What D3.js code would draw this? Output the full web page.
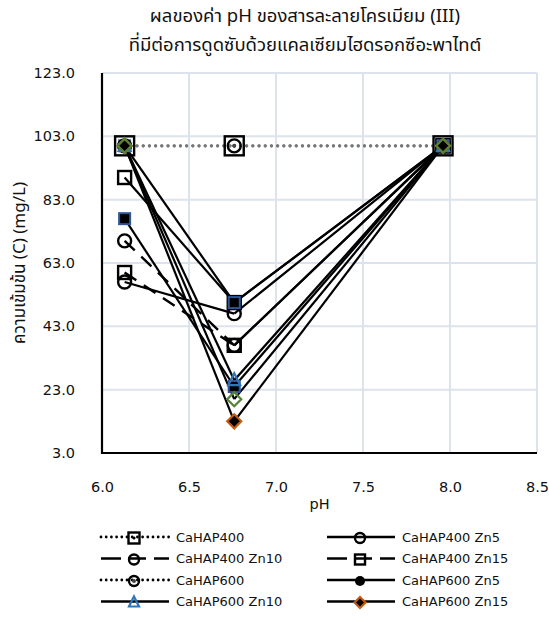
<!DOCTYPE html>
<html>
<head>
<meta charset="utf-8">
<script src="https://cdn.jsdelivr.net/npm/d3@7/dist/d3.min.js"></script>
<style>
  html, body { margin: 0; padding: 0; background: #fff; }
  svg { display: block; }
</style>
</head>
<body>
<svg id="chart" width="549" height="637"></svg>
<script>
// ---------------- data ----------------
const titleLines = ["ผลของค่า pH ของสารละลายโครเมียม (III)", "ที่มีต่อการดูดซับด้วยแคลเซียมไฮดรอกซีอะพาไทต์"];
const xTitle = "pH";
const yTitle = "ความเข้มข้น (C)  (mg/L)";
const phValues = [6.13, 6.76, 7.96];
const xTicks = [6.0, 6.5, 7.0, 7.5, 8.0, 8.5];
const yTicks = [3, 23, 43, 63, 83, 103, 123];

const cahap400     = [100, 100, 100];
const cahap400Zn5  = [57, 47, 100];
const cahap400Zn10 = [70, 37, 100];
const cahap400Zn15 = [60, 37, 100];
const cahap600     = [100, 100, 100];
const cahap600Zn5  = [77, 24, 100];
const cahap600Zn10 = [100, 26, 100];
const cahap600Zn15 = [100, 13, 100];
// series drawn in the plot but absent from the legend
const extraSquare  = [90, 50.5, 100];
const extraFilled  = [100, 50.5, 100];
const extraDiamond = [100, 20, 100];

// ---------------- styles ----------------
const series = [
  {name: "CaHAP400",      values: cahap400,     line: "dot",   marker: "squareDot", size: 19, legend: [0,0]},
  {name: "CaHAP400 Zn5",  values: cahap400Zn5,  line: "solid", marker: "circle",    size: 13, legend: [1,0]},
  {name: "CaHAP400 Zn10", values: cahap400Zn10, line: "dash",  marker: "circle",    size: 13, legend: [0,1]},
  {name: "CaHAP400 Zn15", values: cahap400Zn15, line: "dash",  marker: "square",    size: 13, legend: [1,1]},
  {name: "extraSquare",   values: extraSquare,  line: "solid", marker: "square",    size: 13, legend: null},
  {name: "extraFilled",   values: extraFilled,  line: "solid", marker: "filledSquare", size: 11, legend: null},
  {name: "CaHAP600",      values: cahap600,     line: "dot",   marker: "circleDot", size: 13, legend: [0,2]},
  {name: "CaHAP600 Zn5",  values: cahap600Zn5,  line: "solid", marker: "filledSquare", size: 11, legend: [1,2], legendMarker: "filledCircle"},
  {name: "CaHAP600 Zn10", values: cahap600Zn10, line: "solid", marker: "triangle",  size: 12, legend: [0,3]},
  {name: "CaHAP600 Zn15", values: cahap600Zn15, line: "solid", marker: "diamond",   size: 14, legend: [1,3]},
  {name: "extraDiamond",  values: extraDiamond, line: "solid", marker: "greenDiamond", size: 14, legend: null}
];

const svg = d3.select("#chart");
const plot = {left: 102, right: 537, top: 73, bottom: 453};

const x = d3.scaleLinear().domain([6.0, 8.5]).range([plot.left, plot.right]);
const y = d3.scaleLinear().domain([3, 123]).range([plot.bottom, plot.top]);

const fontTxt = "'DejaVu Sans', Verdana, sans-serif";
const fontThai = "'Noto Sans Thai', 'Noto Sans', 'DejaVu Sans', sans-serif";

// title
svg.append("g").selectAll("text").data(titleLines).join("text")
  .attr("x", 305).attr("y", (d, i) => 22 + i * 29)
  .attr("text-anchor", "middle")
  .attr("font-family", fontThai).attr("font-size", 18.5)
  .attr("fill", "#111").text(d => d);

// grid
const grid = svg.append("g");
grid.selectAll(".gx").data(xTicks).join("line")
  .attr("x1", d => x(d)).attr("x2", d => x(d))
  .attr("y1", plot.top).attr("y2", plot.bottom)
  .attr("stroke", "#dde3ec").attr("stroke-width", 2);
grid.selectAll(".gy").data(yTicks).join("line")
  .attr("x1", plot.left).attr("x2", plot.right)
  .attr("y1", d => y(d)).attr("y2", d => y(d))
  .attr("stroke", "#dde3ec").attr("stroke-width", 2);

// axes
const xAxis = d3.axisBottom(x).tickValues(xTicks).tickFormat(d3.format(".1f")).tickSize(0).tickPadding(29);
const yAxis = d3.axisLeft(y).tickValues(yTicks).tickFormat(d3.format(".1f")).tickSize(0).tickPadding(26);
const gx = svg.append("g").attr("transform", `translate(0,${plot.bottom})`).call(xAxis);
const gy = svg.append("g").attr("transform", `translate(${plot.left},0)`).call(yAxis);
[gx, gy].forEach(g => {
  g.select(".domain").remove();
  g.selectAll("text").attr("font-family", fontTxt).attr("font-size", 14.5).attr("fill", "#111");
});
gy.selectAll("text").attr("x", -27).attr("text-anchor", "end");
svg.append("line").attr("x1", plot.left).attr("x2", plot.left).attr("y1", plot.top).attr("y2", plot.bottom + 1)
  .attr("stroke", "#000").attr("stroke-width", 2.2);
svg.append("line").attr("x1", plot.left - 1).attr("x2", plot.right).attr("y1", plot.bottom).attr("y2", plot.bottom)
  .attr("stroke", "#000").attr("stroke-width", 2.2);

svg.append("text").attr("x", (plot.left + plot.right) / 2).attr("y", 509)
  .attr("text-anchor", "middle").attr("font-family", fontTxt).attr("font-size", 14.5).attr("fill", "#111").text(xTitle);
svg.append("text").attr("transform", `translate(20,${(plot.top + plot.bottom) / 2}) rotate(-90)`)
  .attr("text-anchor", "middle").attr("dominant-baseline", "central")
  .attr("font-family", fontThai).attr("font-size", 17).attr("fill", "#111").text(yTitle);

// line style helper
function styleLine(sel, kind) {
  sel.attr("fill", "none");
  if (kind === "dot") {
    sel.attr("stroke", "#777").attr("stroke-width", 3.2).attr("stroke-linecap", "round").attr("stroke-dasharray", "0,6.2");
  } else if (kind === "dash") {
    sel.attr("stroke", "#000").attr("stroke-width", 2.4).attr("stroke-dasharray", "14,9");
  } else {
    sel.attr("stroke", "#000").attr("stroke-width", 2.2);
  }
  return sel;
}

// marker helper
function drawMarker(g, type, cx, cy, s) {
  const h = s / 2;
  if (type === "square" || type === "squareDot") {
    g.append("rect").attr("x", cx - h).attr("y", cy - h).attr("width", s).attr("height", s)
      .attr("fill", "none").attr("stroke", "#000").attr("stroke-width", 2.4);
    if (type === "squareDot") g.append("circle").attr("cx", cx).attr("cy", cy).attr("r", 1.6).attr("fill", "#000");
  } else if (type === "filledSquare") {
    g.append("rect").attr("x", cx - h).attr("y", cy - h).attr("width", s).attr("height", s)
      .attr("fill", "#000").attr("stroke", "#2f5597").attr("stroke-width", 2);
  } else if (type === "circle" || type === "circleDot") {
    g.append("circle").attr("cx", cx).attr("cy", cy).attr("r", h)
      .attr("fill", "none").attr("stroke", "#000").attr("stroke-width", 2.4);
    if (type === "circleDot") g.append("circle").attr("cx", cx).attr("cy", cy).attr("r", 2).attr("fill", "#444");
  } else if (type === "filledCircle") {
    g.append("circle").attr("cx", cx).attr("cy", cy).attr("r", h).attr("fill", "#000");
  } else if (type === "triangle") {
    const p = [[cx, cy - h - 1], [cx + h, cy + h - 1], [cx - h, cy + h - 1]];
    g.append("polygon").attr("points", p.map(q => q.join(",")).join(" "))
      .attr("fill", "none").attr("stroke", "#2e75b6").attr("stroke-width", 2.2);
  } else if (type === "diamond" || type === "greenDiamond") {
    const p = [[cx, cy - h], [cx + h, cy], [cx, cy + h], [cx - h, cy]];
    const green = type === "greenDiamond";
    g.append("polygon").attr("points", p.map(q => q.join(",")).join(" "))
      .attr("fill", green ? "none" : "#000")
      .attr("stroke", green ? "#548235" : "#c55a11").attr("stroke-width", 2.2);
  }
}

// lines: dashed series overlap on their rising segment, which reads as solid
const gl = svg.append("g");
series.forEach(s => {
  for (let i = 0; i < s.values.length - 1; i++) {
    const kind = (s.line === "dash" && i > 0) ? "solid" : s.line;
    styleLine(gl.append("line")
      .attr("x1", x(phValues[i])).attr("y1", y(s.values[i]))
      .attr("x2", x(phValues[i + 1])).attr("y2", y(s.values[i + 1])), kind);
  }
});
// markers
const gm = svg.append("g");
series.forEach(s => {
  s.values.forEach((v, i) => drawMarker(gm, s.marker, x(phValues[i]), y(v), s.size));
});

// legend
const legend = svg.append("g");
const colX = [101, 327];
const rowY = [537, 558.5, 580, 601.5];
series.filter(s => s.legend).forEach(s => {
  const lx = colX[s.legend[0]], ly = rowY[s.legend[1]];
  styleLine(legend.append("line").attr("x1", lx).attr("x2", lx + 68).attr("y1", ly).attr("y2", ly), s.line)
    .attr("stroke", "#000").attr("stroke-width", s.line === "dot" ? 2.8 : 2.6)
    .attr("stroke-dasharray", s.line === "dot" ? "0,5.2" : (s.line === "dash" ? "20,7,18,8,15" : null));
  let m = s.legendMarker || s.marker;
  if (m === "filledSquare") m = "filledCircle";
  if (m === "greenDiamond") m = "diamond";
  const size = m === "squareDot" ? 11 : (m === "diamond" ? 11 : 10);
  drawMarker(legend, m, lx + 33, ly + 1, size);
  legend.append("text").attr("x", lx + 75).attr("y", ly).attr("dominant-baseline", "central")
    .attr("font-family", fontTxt).attr("font-size", 13).attr("fill", "#111").text(s.name);
});
</script>
</body>
</html>
